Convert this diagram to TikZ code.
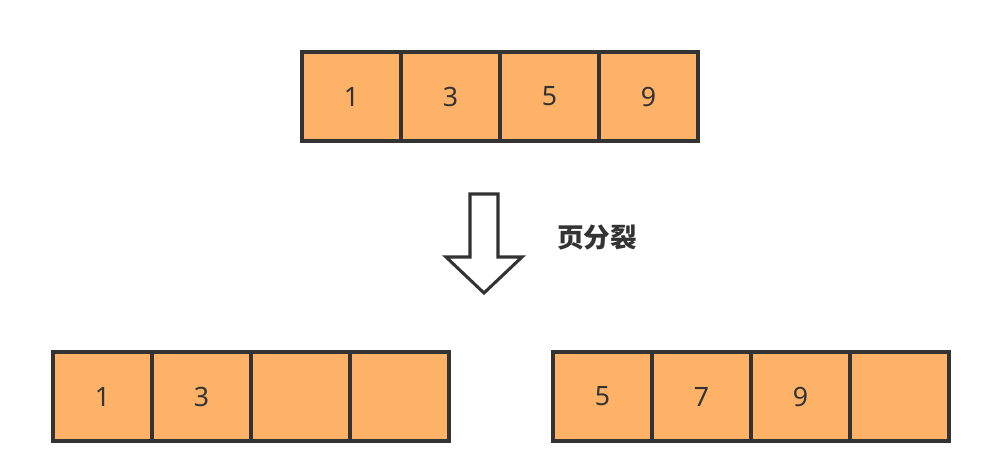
\documentclass[tikz,border=0pt]{standalone}
\usepackage{fontspec}
\setmainfont{Noto Sans}
\newfontfamily\cjk{Noto Sans CJK SC}
\definecolor{cellfill}{RGB}{253,178,104}
\definecolor{cellline}{RGB}{51,51,51}
\tikzset{
  cell/.style={draw=cellline,fill=cellfill,line width=3pt,
    minimum width=74.25pt,minimum height=66.75pt,inner sep=0pt,
    font=\fontsize{20}{24}\selectfont,text=cellline},
  splitarrow/.style={draw=cellline,line width=2.3pt,fill=white,line join=miter}
}
\begin{document}
\begin{tikzpicture}[x=0.75pt,y=-0.75pt]
  \useasboundingbox (0,0) rectangle (994,460);
  \def\dx{99}
  % page before the split
  \foreach \v [count=\i] in {1,3,5,9}
    \node[cell] (top\i) at ({351.5+\dx*(\i-1)},96.5) {\v};
  % hollow arrow and label
  \draw[splitarrow] (470,194) -- (498,194) -- (498,257) -- (522,257)
    -- (484,293) -- (446,257) -- (470,257) -- cycle;
  \node[font=\cjk\bfseries\fontsize{20}{24}\selectfont,text=cellline] (split) at (597,237) {页分裂};
  % the two pages after the split
  \foreach \v [count=\i] in {1,3,{},{}}
    \node[cell] (left\i) at ({102.5+\dx*(\i-1)},396.5) {\v};
  \foreach \v [count=\i] in {5,7,9,{}}
    \node[cell] (right\i) at ({602.5+\dx*(\i-1)},396.5) {\v};
\end{tikzpicture}
\end{document}
